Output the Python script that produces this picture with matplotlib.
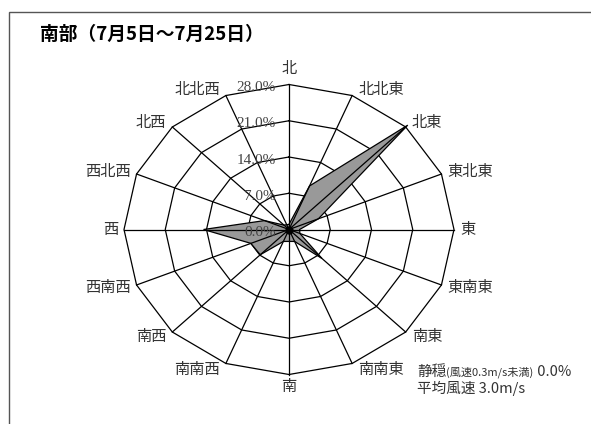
import numpy as np
import matplotlib.pyplot as plt
from matplotlib.patches import Rectangle

plt.rcParams['font.family'] = ['Noto Sans CJK JP', 'DejaVu Sans']

# wind direction frequency (%)
directions = ['北', '北北東', '北東', '東北東', '東', '東南東', '南東', '南南東',
              '南', '南南西', '南西', '西南西', '西', '西北西', '北西', '北北西']
freq = [1.0, 9.1, 28.5, 5.4, 1.8, 2.0, 7.9, 2.5,
        2.3, 2.5, 6.9, 7.0, 14.5, 4.5, 1.2, 1.0]
rings = [0.0, 7.0, 14.0, 21.0, 28.0]
title = '南部（7月5日～7月25日）'
calm = 0.0
mean_speed = 3.0

W, H = 591, 424
cx, cy = 289, 229.5      # centre of the rose, pixels from top-left
rx, ry = 165, 145        # pixel radius of the outer ring
rmax = rings[-1]

fig = plt.figure(figsize=(W / 100, H / 100), dpi=100)
ax = fig.add_axes([0, 0, 1, 1])
ax.set_xlim(-cx * rmax / rx, (W - cx) * rmax / rx)
ax.set_ylim(-(H - cy) * rmax / ry, cy * rmax / ry)
ax.axis('off')

# outer frame (left/top visible)
fig.add_artist(Rectangle((9 / W, -0.05), 1.1, 1 - 12 / H + 0.05, transform=fig.transFigure,
                         fill=False, edgecolor='#555555', lw=1))

theta = np.arange(len(directions)) * 2 * np.pi / len(directions)
s, c = np.sin(theta), np.cos(theta)

# polygon grid
for r in rings[1:]:
    ax.plot(np.append(r * s, r * s[0]), np.append(r * c, r * c[0]),
            color='black', lw=0.9, zorder=1)

v = np.array(freq)
ax.fill(v * s, v * c, facecolor='#999999', edgecolor='black', lw=0.9, zorder=2)

# spokes
for i in range(len(directions)):
    ax.plot([0, rmax * s[i]], [0, rmax * c[i]], color='black', lw=0.9, zorder=3)
ax.plot([0], [0], 'o', ms=5, color='black', zorder=3)

# ring labels
for r in rings:
    ax.annotate(f'{r:.1f}%', xy=(0, r), xytext=(-13, -3), textcoords='offset pixels',
                ha='right', va='center', fontsize=11, color='#444444',
                family=['Liberation Serif'], zorder=4)

# direction labels
for i, name in enumerate(directions):
    x, y = rmax * s[i], rmax * c[i]
    if abs(s[i]) < 0.01:
        ha = 'center'
        va = 'bottom' if c[i] > 0 else 'top'
        dx, dy = 0, (8 if c[i] > 0 else -3)
    else:
        ha = 'left' if s[i] > 0 else 'right'
        va = 'center'
        dx, dy = (6 if s[i] > 0 else -6), 7 * c[i]
    ax.annotate(name, xy=(x, y), xytext=(dx, dy), textcoords='offset pixels',
                ha=ha, va=va, fontsize=11, color='#333333')

fig.text(40 / W, 1 - 34 / H, title, fontsize=13.5, weight='bold', va='center')

t1 = fig.text(417 / W, 1 - 372 / H, '静穏', fontsize=10.5, va='center', color='#333333')
t2 = ax.annotate('(風速0.3m/s未満)', xy=(1, 0.5), xycoords=t1, va='center',
                 fontsize=8, color='#333333')
ax.annotate(f' {calm:.1f}%', xy=(1, 0.5), xycoords=t2, va='center',
            fontsize=10.5, color='#333333')
fig.text(417 / W, 1 - 388 / H, f'平均風速 {mean_speed:.1f}m/s', fontsize=10.5,
         va='center', color='#333333')

fig.savefig('out.png', dpi=100)
